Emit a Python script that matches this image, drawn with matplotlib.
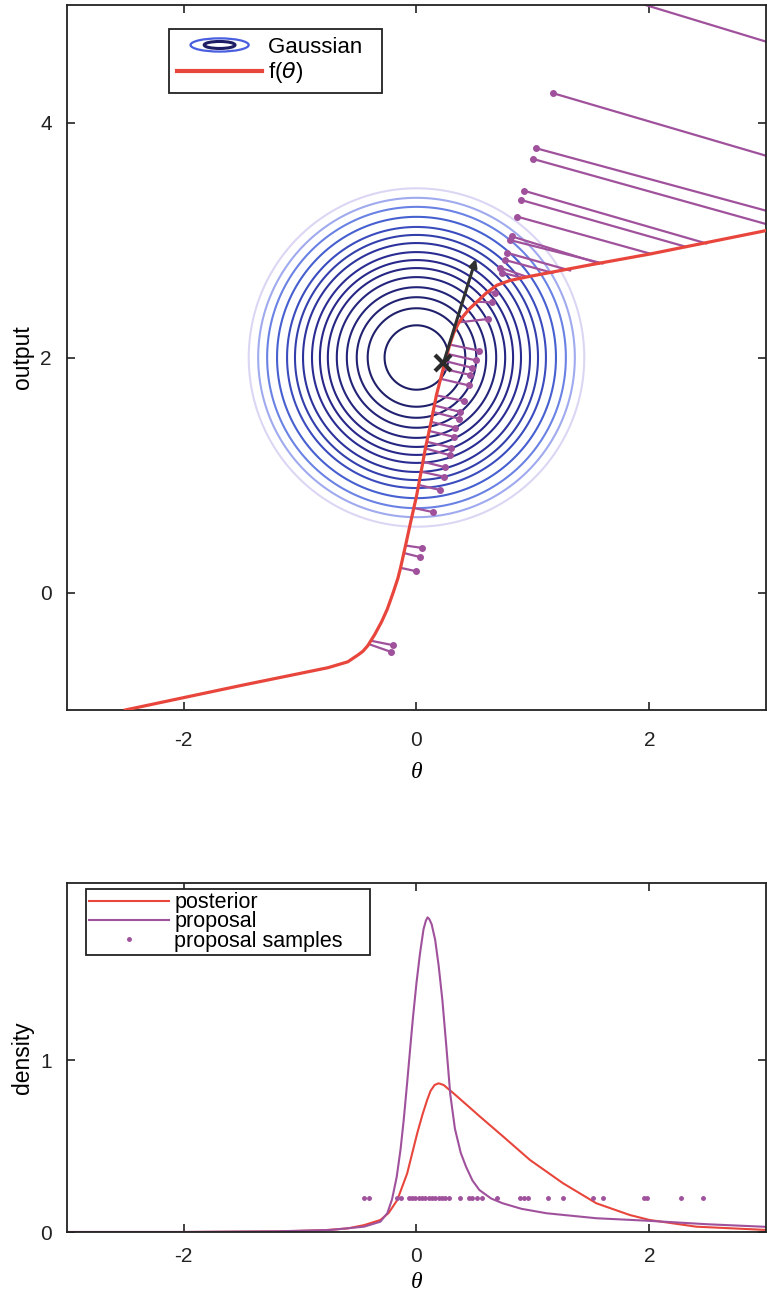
import numpy as np
import matplotlib
matplotlib.use("Agg")
import matplotlib.pyplot as plt
from matplotlib.patches import Ellipse
from matplotlib.legend_handler import HandlerBase
from matplotlib.lines import Line2D

plt.rcParams['font.family'] = ['Liberation Sans', 'DejaVu Sans']
plt.rcParams['axes.unicode_minus'] = False

### data
# f(theta) curve
f_theta = [-2.5, -1.5, -0.76, -0.59, -0.50, -0.46, -0.42, -0.36, -0.30, -0.25, -0.20,
           -0.16, -0.137, -0.094, -0.05, 0.0, 0.04, 0.077, 0.125, 0.171, 0.228, 0.285,
           0.32, 0.36, 0.40, 0.45, 0.52, 0.60, 0.69, 0.80, 0.97, 1.5, 2.0, 3.0, 4.5, 7.0]
f_out = [-1.0, -0.79, -0.64, -0.59, -0.53, -0.50, -0.455, -0.36, -0.25, -0.14, 0.0,
         0.12, 0.21, 0.40, 0.60, 0.82, 1.03, 1.23, 1.45, 1.68, 1.90, 2.11,
         2.21, 2.29, 2.35, 2.41, 2.475, 2.55, 2.615, 2.655, 2.69, 2.79, 2.88, 3.08, 3.36, 3.84]

# gaussian contour rings (centre and radii)
gauss_centre = (0.0, 2.0)
ring_radii = [0.274, 0.419, 0.513, 0.598, 0.684, 0.761, 0.829, 0.897, 0.974,
              1.043, 1.111, 1.197, 1.282, 1.359, 1.44]
ring_colors = ['#1e1e66', '#20206c', '#222272', '#232378', '#25257e', '#262684',
               '#28288a', '#2a2c92', '#2d339c', '#3340ac', '#3a4cbe', '#4660d0',
               '#6a82e4', '#a0aaee', '#dcd6f4']

# samples: dot end and curve end of every segment
seg_dot_t = [1.80, 1.17, 1.03, 1.00, 0.92, 0.90, 0.86, 0.82, 0.80, 0.78, 0.76,
             0.718, 0.732, 0.675, 0.647, 0.618,
             0.533, 0.513, 0.476, 0.456, 0.447, 0.404, 0.376, 0.362, 0.333, 0.319,
             0.297, 0.285, 0.248, 0.234, 0.200, 0.143,
             0.048, 0.028, -0.003, -0.199, -0.217]
seg_dot_y = [5.05, 4.25, 3.78, 3.69, 3.42, 3.34, 3.20, 3.03, 3.00, 2.89, 2.83,
             2.765, 2.723, 2.553, 2.469, 2.328,
             2.059, 1.975, 1.913, 1.853, 1.763, 1.630, 1.537, 1.480, 1.404, 1.325,
             1.234, 1.169, 1.065, 0.986, 0.873, 0.684,
             0.379, 0.302, 0.181, -0.449, -0.506]
seg_cur_t = [6.28, 4.33, 3.37, 3.13, 2.49, 2.32, 2.02, 1.57, 1.60, 1.32, 1.17,
             0.946, 0.90, 0.604, 0.52, 0.37,
             0.285, 0.262, 0.248, 0.228, 0.205, 0.171, 0.148, 0.140, 0.125, 0.105,
             0.091, 0.077, 0.057, 0.040, 0.020, -0.017,
             -0.094, -0.108, -0.137, -0.393, -0.407]
seg_cur_y = [3.70, 3.33, 3.15, 3.10, 2.97, 2.94, 2.88, 2.80, 2.80, 2.74, 2.72,
             2.687, 2.68, 2.555, 2.475, 2.30,
             2.110, 2.031, 1.969, 1.904, 1.819, 1.678, 1.593, 1.537, 1.452, 1.376,
             1.282, 1.226, 1.113, 1.028, 0.915, 0.718,
             0.40, 0.336, 0.21, -0.41, -0.44]

# current point and gradient arrow
x_point = (0.23, 1.95)
arrow_tip = (0.51, 2.84)

# densities
post_theta = [-3.0, -2.0, -1.2, -0.8, -0.59, -0.45, -0.31, -0.24, -0.165, -0.08, 0.006,
              0.05, 0.091, 0.12, 0.155, 0.19, 0.233, 0.319, 0.43, 0.547, 0.746, 0.974,
              1.259, 1.544, 1.83, 2.0, 2.4, 3.0]
post_dens = [0.0, 0.0, 0.003, 0.01, 0.021, 0.04, 0.07, 0.11, 0.186, 0.341, 0.574,
             0.68, 0.767, 0.82, 0.855, 0.865, 0.855, 0.806, 0.74, 0.67, 0.554, 0.419,
             0.283, 0.167, 0.099, 0.07, 0.031, 0.012]
prop_theta = [-3.0, -2.0, -1.2, -0.735, -0.45, -0.31, -0.25, -0.21, -0.17, -0.137, -0.11,
              -0.08, -0.05, -0.03, 0.0, 0.03, 0.06, 0.08, 0.095, 0.11, 0.13, 0.16, 0.19,
              0.222, 0.256, 0.29, 0.33, 0.38, 0.425, 0.48, 0.54, 0.64, 0.74, 0.9, 1.117,
              1.544, 1.97, 2.5, 3.0]
prop_dens = [0.0, 0.0, 0.004, 0.012, 0.031, 0.06, 0.11, 0.19, 0.32, 0.48, 0.65,
             0.87, 1.10, 1.25, 1.45, 1.62, 1.76, 1.81, 1.83, 1.82, 1.79, 1.70, 1.55,
             1.35, 1.08, 0.80, 0.60, 0.46, 0.38, 0.30, 0.244, 0.195, 0.167, 0.135, 0.109,
             0.08, 0.066, 0.045, 0.03]
sample_theta = [-0.450, -0.407, -0.165, -0.131, -0.065, -0.037, -0.009, 0.020, 0.048,
                0.077, 0.105, 0.134, 0.162, 0.191, 0.219, 0.248, 0.276, 0.376, 0.447,
                0.476, 0.519, 0.561, 0.690, 0.889, 0.923, 0.960, 1.131, 1.259, 1.516,
                1.601, 1.957, 1.977, 2.271, 2.456]
sample_level = 0.2

RED = '#e8463c'
PURPLE = '#a0519c'


class GaussHandler(HandlerBase):
    def create_artists(self, legend, orig_handle, xdescent, ydescent, width, height,
                       fontsize, trans):
        cx = width / 2 - xdescent
        cy = height / 2 - ydescent
        outer = Ellipse((cx, cy), width * 0.68, height * 0.85, fill=False,
                        edgecolor='#4a5fe0', lw=1.6, transform=trans)
        inner = Ellipse((cx, cy), width * 0.36, height * 0.45, fill=False,
                        edgecolor='#1e1e66', lw=2.2, transform=trans)
        return [outer, inner]


def style_axes(ax, xpad):
    for s in ax.spines.values():
        s.set_linewidth(1.3)
        s.set_color('#222222')
    ax.tick_params(direction='in', length=6, width=1.2, top=True, right=True,
                   labelsize=15, colors='#222222', pad=11)
    ax.tick_params(axis='x', pad=xpad)


fig = plt.figure(figsize=(7.67, 13.0), dpi=100)

### top panel
ax1 = fig.add_axes([67 / 767, 590 / 1300, 699 / 767, 705 / 1300])
tt = np.linspace(-1.7, 1.7, 500)
X, Y = np.meshgrid(tt, tt + gauss_centre[1])
R = np.hypot(X - gauss_centre[0], Y - gauss_centre[1])
ax1.contour(X, Y, R, levels=ring_radii, colors=ring_colors, linewidths=1.5, zorder=1)

for i in range(len(seg_dot_t)):
    ax1.plot([seg_dot_t[i], seg_cur_t[i]], [seg_dot_y[i], seg_cur_y[i]],
             color=PURPLE, lw=1.6, zorder=2, solid_capstyle='round')
ax1.plot(seg_dot_t, seg_dot_y, 'o', color=PURPLE, ms=4, zorder=2)

ax1.plot(f_theta, f_out, color=RED, lw=2.3, zorder=3, solid_joinstyle='round')

ax1.annotate('', xy=arrow_tip, xytext=x_point,
             arrowprops=dict(arrowstyle='-|>', color='#303030', lw=2.2,
                             mutation_scale=11, shrinkA=0, shrinkB=0), zorder=4)
ax1.plot(*x_point, marker='x', ms=12, mew=3, color='#2a2a2a', zorder=5)

ax1.set_xlim(-3, 3)
ax1.set_ylim(-1, 5)
ax1.set_xticks([-2, 0, 2])
ax1.set_yticks([0, 2, 4])
ax1.set_xlabel('θ', fontsize=17, fontstyle='italic', family='Liberation Serif', labelpad=9)
ax1.set_ylabel('output', fontsize=16.5, labelpad=4)
style_axes(ax1, 15)

h_gauss = Line2D([], [])
h_f = Line2D([], [], color=RED, lw=3)
leg1 = ax1.legend([h_gauss, h_f], ['Gaussian  ', 'f($\\theta$)'],
                  handler_map={h_gauss: GaussHandler()},
                  loc='upper left', bbox_to_anchor=(0.146, 0.966), borderaxespad=0,
                  fontsize=16, handlelength=3.85, handletextpad=0.25,
                  labelspacing=0.12, borderpad=0.35, fancybox=False, framealpha=1,
                  edgecolor='#222222')
leg1.get_frame().set_linewidth(1.3)

### bottom panel
ax2 = fig.add_axes([67 / 767, 68 / 1300, 699 / 767, 349 / 1300])
ax2.plot(post_theta, post_dens, color=RED, lw=1.5, label='posterior')
ax2.plot(prop_theta, prop_dens, color=PURPLE, lw=1.5, label='proposal')
ax2.plot(sample_theta, [sample_level] * len(sample_theta), '.', color=PURPLE,
         ms=5, label='proposal samples    ')
ax2.set_xlim(-3, 3)
ax2.set_ylim(0, 2.03)
ax2.set_xticks([-2, 0, 2])
ax2.set_yticks([0, 1])
ax2.set_xlabel('θ', fontsize=17, fontstyle='italic', family='Liberation Serif', labelpad=4)
ax2.set_ylabel('density', fontsize=16.5, labelpad=4)
style_axes(ax2, 11)

leg2 = ax2.legend(loc='upper left', bbox_to_anchor=(0.027, 0.983), borderaxespad=0,
                  fontsize=15.5, handlelength=3.7, handletextpad=0.25,
                  labelspacing=-0.08, borderpad=0.15, fancybox=False, framealpha=1,
                  edgecolor='#222222')
leg2.get_frame().set_linewidth(1.3)

fig.savefig('out.png', dpi=100)
